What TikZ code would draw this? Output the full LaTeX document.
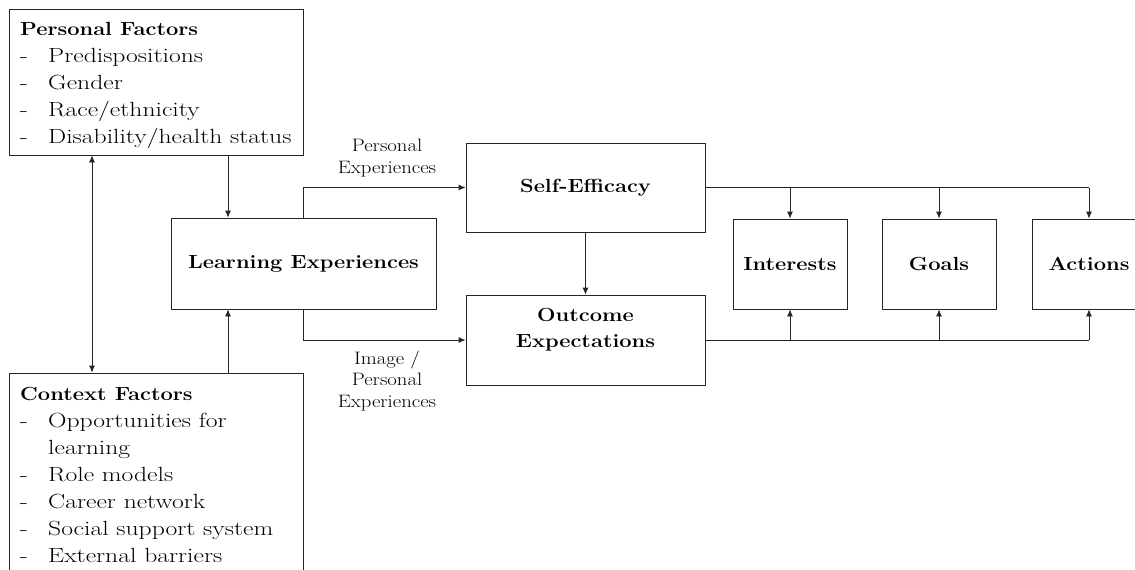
\documentclass[tikz,border=0pt]{standalone}
\usepackage{fontspec}
\setmainfont{Latin Modern Roman}[FakeStretch=1.15]
\newfontfamily\listfont{Latin Modern Roman}[FakeStretch=1.25]
\usetikzlibrary{arrows.meta}
\newcommand{\lidash}{\makebox[28pt][l]{-}}
\newcommand{\hd}[1]{{\rmfamily\fontsize{19}{27}\selectfont\bfseries #1}}
\begin{document}
\begin{tikzpicture}[x=1pt,y=-1pt,
  box/.style={draw=black!85, line width=0.8pt, inner sep=0pt, align=center,
    font=\fontsize{19}{24}\selectfont\bfseries},
  boxtext/.style={inner sep=0pt, align=center, font=\fontsize{19}{26}\selectfont\bfseries},
  listtext/.style={inner sep=0pt, align=left, anchor=north west,
    font=\listfont\fontsize{20.5}{27}\selectfont},
  lbl/.style={inner sep=0pt, align=center, font=\fontsize{18}{21.5}\selectfont},
  line/.style={draw=black!85, line width=0.8pt},
  conn/.style={line, -{Latex[length=7pt,width=6pt]}},
  dconn/.style={line, {Latex[length=7pt,width=6pt]}-{Latex[length=7pt,width=6pt]}}]
\clip (0,0) rectangle (1135,570);
\fill[white] (0,0) rectangle (1135,570);
% left boxes
\node[box, minimum width=294pt, minimum height=146pt] (pf) at (156,82) {};
\node[listtext] (pft) at (20,22) {\hd{Personal Factors}\\
  \lidash Predispositions\\
  \lidash Gender\\
  \lidash Race/ethnicity\\
  \lidash Disability/health status};
\node[box, minimum width=294pt, minimum height=227pt] (cf) at (156,486.5) {};
\node[listtext] (cft) at (20,387) {\hd{Context Factors}\\
  \lidash Opportunities for\\
  \hspace*{28pt}learning\\
  \lidash Role models\\
  \lidash Career network\\
  \lidash Social support system\\
  \lidash External barriers};
% central boxes
\node[box, minimum width=265pt, minimum height=91pt] (le) at (303.5,263.5) {Learning Experiences};
\node[box, minimum width=239pt, minimum height=89pt] (se) at (585.5,187.5) {Self-Efficacy};
\node[box, minimum width=239pt, minimum height=90pt] (oe) at (585.5,340) {};
\node[boxtext] (oet) at ([yshift=10pt]oe.center) {Outcome\\Expectations};
\node[box, minimum width=114pt, minimum height=90pt] (int) at (790,264) {Interests};
\node[box, minimum width=114pt, minimum height=90pt] (goals) at (939,264) {Goals};
\node[box, minimum width=114pt, minimum height=90pt] (act) at (1089,264) {Actions};
% labels
\node[lbl] (l1) at (387,158) {Personal\\Experiences};
\node[lbl] (l2) at (387,381) {Image /\\Personal\\Experiences};
% connectors
\coordinate (xa) at (92,0);
\coordinate (xb) at (228,0);
\draw[dconn] (pf.south -| xa) -- (cf.north -| xa);
\draw[conn] (pf.south -| xb) -- (le.north -| xb);
\draw[conn] (cf.north -| xb) -- (le.south -| xb);
\draw[conn] (le.north) |- (se.west);
\draw[conn] (le.south) |- (oe.west);
\draw[conn] (se) -- (oe);
\draw[line] (se.east) -- (act.north |- se.east);
\foreach \n in {int,goals,act} \draw[conn] (\n.north |- se.east) -- (\n.north);
\draw[line] (oe.east) -- (act.south |- oe.east);
\foreach \n in {int,goals,act} \draw[conn] (\n.south |- oe.east) -- (\n.south);
\end{tikzpicture}
\end{document}
